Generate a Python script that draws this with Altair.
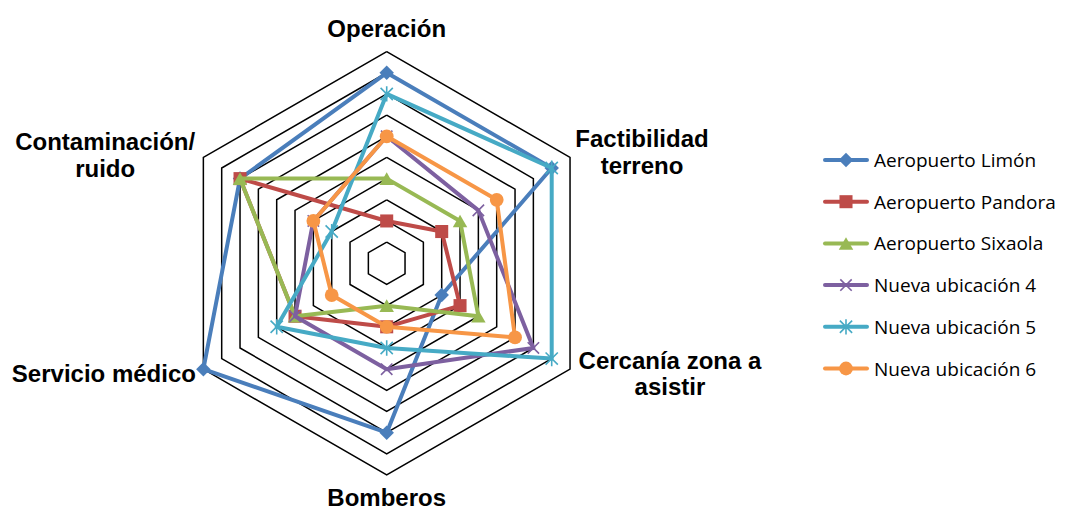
import altair as alt
import pandas as pd

# ---------------- data ----------------
categories = ["Operación", "Factibilidad terreno", "Cercanía zona a asistir",
              "Bomberos", "Servicio médico", "Contaminación/ ruido"]
category_labels = ["Operación", "Factibilidad\nterreno", "Cercanía zona a\nasistir",
                   "Bomberos", "Servicio médico", "Contaminación/\nruido"]
series = ["Aeropuerto Limón", "Aeropuerto Pandora", "Aeropuerto Sixaola",
          "Nueva ubicación 4", "Nueva ubicación 5", "Nueva ubicación 6"]
limon = [9, 9, 3, 8, 10, 8]
pandora = [2, 3, 4, 3, 5, 8]
sixaola = [4, 4, 5, 2, 5, 8]
nueva4 = [6, 5, 8, 5, 5, 4]
nueva5 = [8, 9, 9, 4, 6, 3]
nueva6 = [6, 6, 7, 3, 3, 4]
grid_levels = [1, 2, 3, 4, 5, 6, 7, 8, 9, 10]
values = [limon, pandora, sixaola, nueva4, nueva5, nueva6]

# ---------------- styles ----------------
colors = ["#4A7EBB", "#BE4B48", "#98B954", "#7D60A0", "#46AAC5", "#F79646"]
X_PATH = "M-1,-1L1,1M-1,1L1,-1"
AST_PATH = "M-1,-1L1,1M-1,1L1,-1M0,-1.25L0,1.25"
shapes = ["diamond", "square", "triangle-up", X_PATH, AST_PATH, "circle"]
sizes = [210, 170, 210, 130, 150, 190]
filled = [True, True, True, False, False, True]

# ---------------- layout ----------------
U = 21.17               # pixels per unit
CX, CY = 386.7, 263.3   # page position of center
W, H = 1052, 493
xdom = [-(CX - 8) / U, (8 + W - CX) / U]
ydom = [-(8 + H - CY) / U, (CY - 8) / U]
xs = alt.Scale(domain=xdom, nice=False, zero=False)
ys = alt.Scale(domain=ydom, nice=False, zero=False)

def X(field="x"):
    return alt.X(f"{field}:Q", scale=xs, axis=None)

def Y(field="y"):
    return alt.Y(f"{field}:Q", scale=ys, axis=None)

polar = dict(x="datum.r * sin(datum.k * PI / 3)", y="datum.r * cos(datum.k * PI / 3)")

# grid
grid_rows = [{"level": L, "k": k, "r": L} for L in grid_levels for k in range(7)]
grid = alt.Chart(pd.DataFrame(grid_rows)).transform_calculate(**polar).mark_line(
    color="black", strokeWidth=1.5
).encode(x=X(), y=Y(), detail="level:N", order="k:Q")

layers = [grid]

rows = []
for s, vals in zip(series, values):
    for k in range(7):
        rows.append({"series": s, "k": k, "r": vals[k % 6]})
df = pd.DataFrame(rows)

for i, s in enumerate(series):
    base = alt.Chart(df).transform_filter(alt.datum.series == s).transform_calculate(**polar)
    line = base.mark_line(color=colors[i], strokeWidth=4, strokeJoin="round").encode(
        x=X(), y=Y(), order="k:Q")
    if filled[i]:
        pt = base.transform_filter("datum.k < 6").mark_point(
            shape=shapes[i], size=sizes[i], filled=True, color=colors[i], opacity=1)
    else:
        pt = base.transform_filter("datum.k < 6").mark_point(
            shape=shapes[i], size=sizes[i], filled=False, color=colors[i],
            strokeWidth=1.6, opacity=1)
    pt = pt.encode(x=X(), y=Y())
    layers += [line, pt]

# category labels
label_pos = [(0.0, 10.70), (12.06, 5.49), (13.38, -4.99),
             (0.0, -11.45), (-13.36, -5.59), (-13.30, 5.35)]
lab_df = pd.DataFrame({"label": category_labels,
                       "lx": [p[0] for p in label_pos],
                       "ly": [p[1] for p in label_pos]})
labels = alt.Chart(lab_df).mark_text(
    font="Liberation Sans", fontWeight="bold", fontSize=24, align="center",
    baseline="alphabetic", lineBreak="\n", lineHeight=26.5, color="black"
).encode(x=X("lx"), y=Y("ly"), text="label:N")
layers.append(labels)

# custom legend
leg_rows = []
for i, s in enumerate(series):
    py = 160 + 41.7 * i
    leg_rows.append({"series": s, "i": i,
                     "x1": (825 - CX) / U, "x2": (867 - CX) / U,
                     "xm": (846 - CX) / U, "xt": (874 - CX) / U,
                     "ly": (CY - py) / U})
leg_df = pd.DataFrame(leg_rows)
for i, s in enumerate(series):
    b = alt.Chart(leg_df).transform_filter(alt.datum.series == s)
    layers.append(b.mark_rule(color=colors[i], strokeWidth=4, strokeCap="round").encode(
        x=X("x1"), x2="x2:Q", y=Y("ly")))
    if filled[i]:
        layers.append(b.mark_point(shape=shapes[i], size=sizes[i], filled=True,
                                   color=colors[i], opacity=1).encode(x=X("xm"), y=Y("ly")))
    else:
        layers.append(b.mark_point(shape=shapes[i], size=sizes[i], filled=False,
                                   color=colors[i], strokeWidth=1.6, opacity=1).encode(
            x=X("xm"), y=Y("ly")))
layers.append(alt.Chart(leg_df).mark_text(
    font="Open Sans", fontSize=19, align="left", baseline="middle", dy=1, color="black"
).encode(x=X("xt"), y=Y("ly"), text="series:N"))

chart = alt.layer(*layers).properties(width=W, height=H, padding=0).configure_view(stroke=None)
chart.save("out.html", embed_options={"renderer": "svg", "actions": False})
